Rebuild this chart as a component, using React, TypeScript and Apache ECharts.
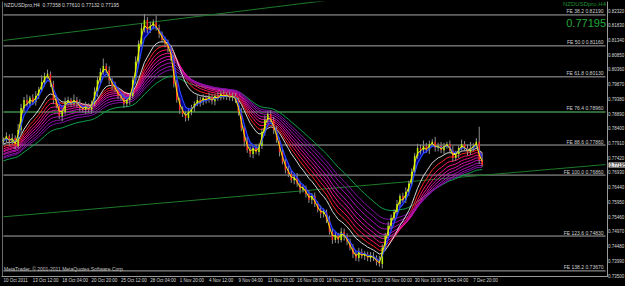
import React, { useEffect, useRef } from "react";
import * as echarts from "echarts";

const symbolTitle = "NZDUSDpro,H4";
const copyrightText = "MetaTrader, © 2001-2011 MetaQuotes Software Corp.";

const timeLabels = [
  "10 Oct 2011", "13 Oct 12:00", "18 Oct 04:00", "20 Oct 20:00", "25 Oct 12:00",
  "28 Oct 04:00", "1 Nov 20:00", "4 Nov 12:00", "9 Nov 04:00", "11 Nov 20:00",
  "16 Nov 08:00", "18 Nov 22:15", "23 Nov 12:00", "28 Nov 00:00", "30 Nov 16:00",
  "5 Dec 04:00", "7 Dec 20:00",
];
const barsPerLabel = 10;
const totalSlots = 206;

const firstOpen = 0.7797;
const closes = [
  0.7803, 0.7816, 0.7797, 0.7809, 0.7783, 0.7836, 0.7909, 0.7936, 0.7923, 0.7943,
  0.7929, 0.7949, 0.7970, 0.7996, 0.8016, 0.8023, 0.7990, 0.7936, 0.7916, 0.7883,
  0.7896, 0.7929, 0.7936, 0.7923, 0.7936, 0.7926, 0.7909, 0.7903, 0.7916, 0.7903,
  0.7923, 0.7962, 0.8002, 0.8029, 0.8049, 0.8036, 0.8002, 0.7982, 0.7970, 0.7949,
  0.7943, 0.7923, 0.7936, 0.7949, 0.8002, 0.8063, 0.8122, 0.8175, 0.8202, 0.8169,
  0.8183, 0.8195, 0.8175, 0.8156, 0.8136, 0.8122, 0.8110, 0.8076, 0.7990, 0.7936,
  0.7903, 0.7889, 0.7876, 0.7896, 0.7909, 0.7923, 0.7936, 0.7929, 0.7943, 0.7936,
  0.7946, 0.7932, 0.7949, 0.7943, 0.7956, 0.7949, 0.7953, 0.7943, 0.7949, 0.7936,
  0.7896, 0.7842, 0.7797, 0.7769, 0.7756, 0.7776, 0.7763, 0.7783, 0.7830, 0.7870,
  0.7889, 0.7870, 0.7836, 0.7803, 0.7763, 0.7730, 0.7703, 0.7690, 0.7669, 0.7677,
  0.7657, 0.7637, 0.7643, 0.7623, 0.7604, 0.7616, 0.7590, 0.7570, 0.7557, 0.7563,
  0.7537, 0.7497, 0.7470, 0.7484, 0.7470, 0.7497, 0.7484, 0.7464, 0.7444, 0.7423,
  0.7410, 0.7430, 0.7417, 0.7423, 0.7410, 0.7417, 0.7410, 0.7397, 0.7390, 0.7444,
  0.7484, 0.7517, 0.7543, 0.7563, 0.7590, 0.7616, 0.7604, 0.7630, 0.7657, 0.7696,
  0.7750, 0.7776, 0.7769, 0.7783, 0.7769, 0.7789, 0.7797, 0.7776, 0.7783, 0.7769,
  0.7783, 0.7789, 0.7769, 0.7743, 0.7756, 0.7776, 0.7789, 0.7776, 0.7763, 0.7776,
  0.7783, 0.7797, 0.77358, 0.77195,
];
// wick extents in pips beyond the candle body
const wickUp = [
  8, 12, 6, 15, 9, 20, 14, 10, 18, 7,
  12, 16, 9, 22, 11, 14, 8, 10, 13, 6,
  9, 15, 11, 7, 18, 10, 12, 8, 14, 9,
  11, 16, 10, 13, 25, 9, 12, 7, 15, 10,
  8, 14, 11, 9, 13, 18, 12, 16, 20, 10,
  14, 9, 22, 12, 8, 11, 15, 9, 10, 13,
  7, 12, 9, 14, 11, 8, 16, 10, 12, 9,
  15, 11, 8, 13, 10, 14, 9, 12, 11, 10,
  8, 13, 9, 16, 12, 10, 14, 8, 11, 15,
  9, 12, 10, 13, 8, 11, 9, 14, 10, 12,
  16, 9, 11, 8, 13, 10, 12, 9, 15, 11,
  8, 14, 10, 12, 9, 13, 11, 8, 10, 12,
  9, 14, 11, 10, 8, 13, 12, 9, 20, 11,
  10, 14, 12, 9, 13, 8, 11, 15, 10, 12,
  9, 14, 11, 18, 10, 12, 9, 16, 11, 13,
  10, 8, 12, 14, 11, 9, 15, 10, 12, 20,
  9, 12, 50, 25.2,
];
const wickDown = [
  10, 7, 14, 9, 12, 8, 16, 11, 9, 13,
  8, 12, 10, 7, 15, 9, 11, 14, 8, 10,
  18, 9, 12, 10, 8, 14, 11, 9, 13, 10,
  12, 8, 15, 10, 9, 11, 14, 12, 8, 10,
  9, 13, 11, 16, 8, 12, 10, 9, 14, 11,
  10, 12, 8, 14, 9, 11, 16, 10, 12, 9,
  14, 10, 12, 9, 11, 13, 8, 15, 10, 12,
  9, 11, 14, 10, 8, 12, 13, 9, 11, 10,
  12, 10, 16, 9, 11, 14, 8, 12, 10, 13,
  11, 9, 13, 10, 15, 8, 12, 11, 9, 14,
  10, 13, 9, 12, 11, 15, 10, 8, 14, 12,
  11, 9, 13, 10, 12, 8, 16, 11, 9, 13,
  10, 12, 9, 14, 11, 13, 10, 12, 9, 15,
  11, 10, 13, 9, 12, 14, 10, 11, 13, 9,
  12, 10, 14, 11, 9, 13, 10, 12, 11, 10,
  13, 9, 11, 12, 10, 14, 9, 11, 12, 10,
  11, 9, 13, 6.3,
];
const pip = 0.0001;

const priceTicks = [
  0.735, 0.7399, 0.7448, 0.7497, 0.7546, 0.7595, 0.7644, 0.7693, 0.7742, 0.7791,
  0.784, 0.7889, 0.7938, 0.7987, 0.8036, 0.8085, 0.8134, 0.8183, 0.8232,
];
const yMin = 0.735;
const yMax = 0.82621;

const feLevels = ["38.2", "50.0", "61.8", "76.4", "88.6", "100.0", "123.6", "138.2"];
const fePrices = [0.8219, 0.8116, 0.8013, 0.7896, 0.7786, 0.7686, 0.7483, 0.7367];

const trendUpper = [0.8134, 0.8382];
const trendLower = [0.7547, 0.7721];

const fastPeriod = 2;
const bluePeriod = 4;
const whitePeriod = 11;
const ribbonPeriods = [14, 17, 20, 23, 26, 30, 34, 38];
const greenPeriod = 46;
const blueSeed = 0.7797;
const whiteSeed = 0.7786;
const ribbonSeeds = [0.7776, 0.7769, 0.7763, 0.776, 0.7753, 0.775, 0.7743, 0.7739];
const greenSeed = 0.773;

const ribbonColors = ["#ff2020", "#ff1060", "#f0108c", "#e010a8", "#c810b8", "#b010b8", "#9810b0", "#8010a8"];

function ema(period: number, seed: number) {
  const a = 2 / (period + 1);
  let v = seed;
  return closes.map((c) => (v = v + a * (c - v)));
}

export default function App() {
  const ref = useRef<HTMLDivElement>(null);
  useEffect(() => {
    document.body.style.margin = "0";
    const chart = echarts.init(ref.current!, null, { renderer: "svg" });

    const opens = closes.map((c, i) => (i === 0 ? firstOpen : closes[i - 1]));
    const highs = closes.map((c, i) => Math.max(c, opens[i]) + wickUp[i] * pip);
    const lows = closes.map((c, i) => Math.min(c, opens[i]) - wickDown[i] * pip);
    const candleData = closes.map((c, i) => [i, opens[i], c, lows[i], highs[i]]);

    const fast = ema(fastPeriod, closes[0]);
    const blue = ema(bluePeriod, blueSeed);
    const white = ema(whitePeriod, whiteSeed);
    const ribbons = ribbonPeriods.map((p, k) => ema(p, ribbonSeeds[k]));
    const green = ema(greenPeriod, greenSeed);
    const fillBase = fast.map((f, i) => Math.min(f, blue[i]));
    const fillBand = fast.map((f, i) => Math.abs(f - blue[i]));

    const isLabelSlot = (i: number) => i % barsPerLabel === 0 && i / barsPerLabel < timeLabels.length;
    const slotNames = Array.from({ length: totalSlots }, (_, i) =>
      isLabelSlot(i) ? timeLabels[i / barsPerLabel] : "s" + i
    );

    const n = closes.length;
    const last = n - 1;
    const lastSlot = totalSlots - 1;
    const fmt = (v: number) => v.toFixed(5);
    const titleText = `${symbolTitle}  ${fmt(opens[last])} ${fmt(highs[last])} ${fmt(lows[last])} ${fmt(closes[last])}`;

    const lineBase = {
      type: "line",
      showSymbol: false,
      symbol: "none",
      silent: true,
    };

    const feSeries = fePrices.map((p, k) => ({
      type: "line",
      name: "fe" + feLevels[k],
      silent: true,
      symbol: "circle",
      symbolSize: 0,
      showSymbol: true,
      z: 2,
      lineStyle: {
        color: feLevels[k] === "76.4" ? "#2f6a35" : "#a8a8a8",
        width: feLevels[k] === "76.4" ? 2 : 1,
      },
      data: [
        { value: [0, p], label: { show: false } },
        {
          value: [lastSlot, p],
          label: {
            show: true,
            formatter: `FE ${feLevels[k]} ${fmt(p)}`,
            position: [-2, -1],
            align: "right",
            verticalAlign: "bottom",
            color: "#d0d0d0",
            fontSize: 5,
            fontFamily: "Liberation Sans",
          },
        },
      ],
    }));

    const option: any = {
      animation: false,
      backgroundColor: "#000000",
      textStyle: { fontFamily: "Liberation Sans" },
      grid: { left: 2, right: 18, top: 2, bottom: 10, containLabel: false, outerBoundsMode: "none" },
      xAxis: {
        type: "category",
        data: slotNames,
        boundaryGap: true,
        axisLine: { lineStyle: { color: "#9a9a9a" } },
        axisTick: { interval: (i: number) => isLabelSlot(i), length: 2, lineStyle: { color: "#9a9a9a" } },
        axisLabel: {
          interval: (i: number) => isLabelSlot(i),
          align: "left",
          fontSize: 4.5,
          color: "#d8d8d8",
          margin: 2,
          fontFamily: "Liberation Sans",
        },
        splitLine: { show: false },
      },
      yAxis: [
        {
          type: "value",
          position: "right",
          min: yMin,
          max: yMax,
          splitLine: { show: false },
          axisLine: { show: true, lineStyle: { color: "#9a9a9a" } },
          axisTick: { show: true, length: 1, customValues: priceTicks, lineStyle: { color: "#9a9a9a" } },
          axisLabel: {
            customValues: priceTicks,
            formatter: (v: number) => v.toFixed(5),
            fontSize: 4.5,
            color: "#d8d8d8",
            margin: 1,
            fontFamily: "Liberation Sans",
          },
        },
        {
          type: "value",
          position: "left",
          min: yMin,
          max: yMax,
          splitLine: { show: false },
          axisLine: { show: true, lineStyle: { color: "#6a6a6a" } },
          axisTick: { show: false },
          axisLabel: { show: false },
        },
      ],
      graphic: [
        { type: "text", left: 4, top: 2, style: { text: titleText, fill: "#d8d8d8", fontSize: 5, fontFamily: "Liberation Sans" } },
        { type: "text", right: 19, top: 1, style: { text: symbolTitle, fill: "#1f8f2f", fontSize: 6, fontFamily: "Liberation Sans" } },
        { type: "text", right: 19, top: 17, style: { text: fmt(closes[last]), fill: "#23a83a", fontSize: 11, fontFamily: "Liberation Sans" } },
        { type: "text", left: 4, top: 266, style: { text: copyrightText, fill: "#c8c8c8", fontSize: 5, fontFamily: "Liberation Sans" } },
      ],
      series: [
        {
          ...lineBase,
          name: "fillBase",
          data: fillBase,
          stack: "fill",
          lineStyle: { opacity: 0 },
          z: 1,
        },
        {
          ...lineBase,
          name: "fillBand",
          data: fillBand,
          stack: "fill",
          lineStyle: { opacity: 0 },
          areaStyle: { color: "#000090", opacity: 1 },
          z: 1,
        },
        ...feSeries,
        {
          ...lineBase,
          name: "trendUpper",
          data: [[0, trendUpper[0]], [lastSlot, trendUpper[1]]],
          lineStyle: { color: "#1e7a2a", width: 1 },
          z: 2,
        },
        {
          ...lineBase,
          name: "trendLower",
          data: [[0, trendLower[0]], [lastSlot, trendLower[1]]],
          lineStyle: { color: "#1e7a2a", width: 1 },
          z: 2,
        },
        {
          ...lineBase,
          name: "green",
          data: green,
          lineStyle: { color: "#10a050", width: 1 },
          z: 3,
        },
        ...ribbons.map((r, k) => ({
          ...lineBase,
          name: "ribbon" + k,
          data: r,
          lineStyle: { color: ribbonColors[k], width: 1 },
          z: 3,
        })),
        {
          ...lineBase,
          name: "white",
          data: white,
          lineStyle: { color: "#d6d6d6", width: 1 },
          z: 4,
        },
        {
          type: "custom",
          name: "candles",
          data: candleData,
          encode: { x: 0, y: [1, 2, 3, 4] },
          clip: true,
          silent: true,
          z: 5,
          renderItem: (params: any, api: any) => {
            const x = api.value(0);
            const o = api.value(1);
            const c = api.value(2);
            const l = api.value(3);
            const h = api.value(4);
            const pO = api.coord([x, o]);
            const pC = api.coord([x, c]);
            const pL = api.coord([x, l]);
            const pH = api.coord([x, h]);
            const w = 1.5;
            return {
              type: "group",
              children: [
                {
                  type: "line",
                  shape: { x1: pH[0], y1: pH[1], x2: pL[0], y2: pL[1] },
                  style: { stroke: "#8e8e8e", lineWidth: 1 },
                },
                {
                  type: "rect",
                  shape: {
                    x: pO[0] - w / 2,
                    y: Math.min(pO[1], pC[1]),
                    width: w,
                    height: Math.max(1, Math.abs(pO[1] - pC[1])),
                  },
                  style: { fill: c >= o ? "#b8f000" : "#ff2a2a" },
                },
              ],
            };
          },
        },
        {
          ...lineBase,
          name: "blue",
          data: blue,
          lineStyle: { color: "#2846ff", width: 1.2 },
          z: 6,
        },
        {
          ...lineBase,
          name: "fast",
          data: fast,
          lineStyle: { color: "#f0f000", width: 1 },
          z: 7,
        },
        {
          type: "line",
          name: "priceTag",
          silent: true,
          clip: false,
          symbol: "circle",
          symbolSize: 0,
          showSymbol: true,
          lineStyle: { opacity: 0 },
          z: 8,
          data: [
            {
              value: [lastSlot, closes[last]],
              label: {
                show: true,
                formatter: fmt(closes[last]),
                position: [3, 0],
                align: "left",
                verticalAlign: "middle",
                color: "#000000",
                backgroundColor: "#e8e8e8",
                padding: [0, 1],
                fontSize: 4.5,
                fontFamily: "Liberation Sans",
              },
            },
          ],
        },
      ],
    };

    chart.setOption(option);
    return () => chart.dispose();
  }, []);

  return <div ref={ref} style={{ width: 625, height: 286, background: "#000000" }} />;
}
